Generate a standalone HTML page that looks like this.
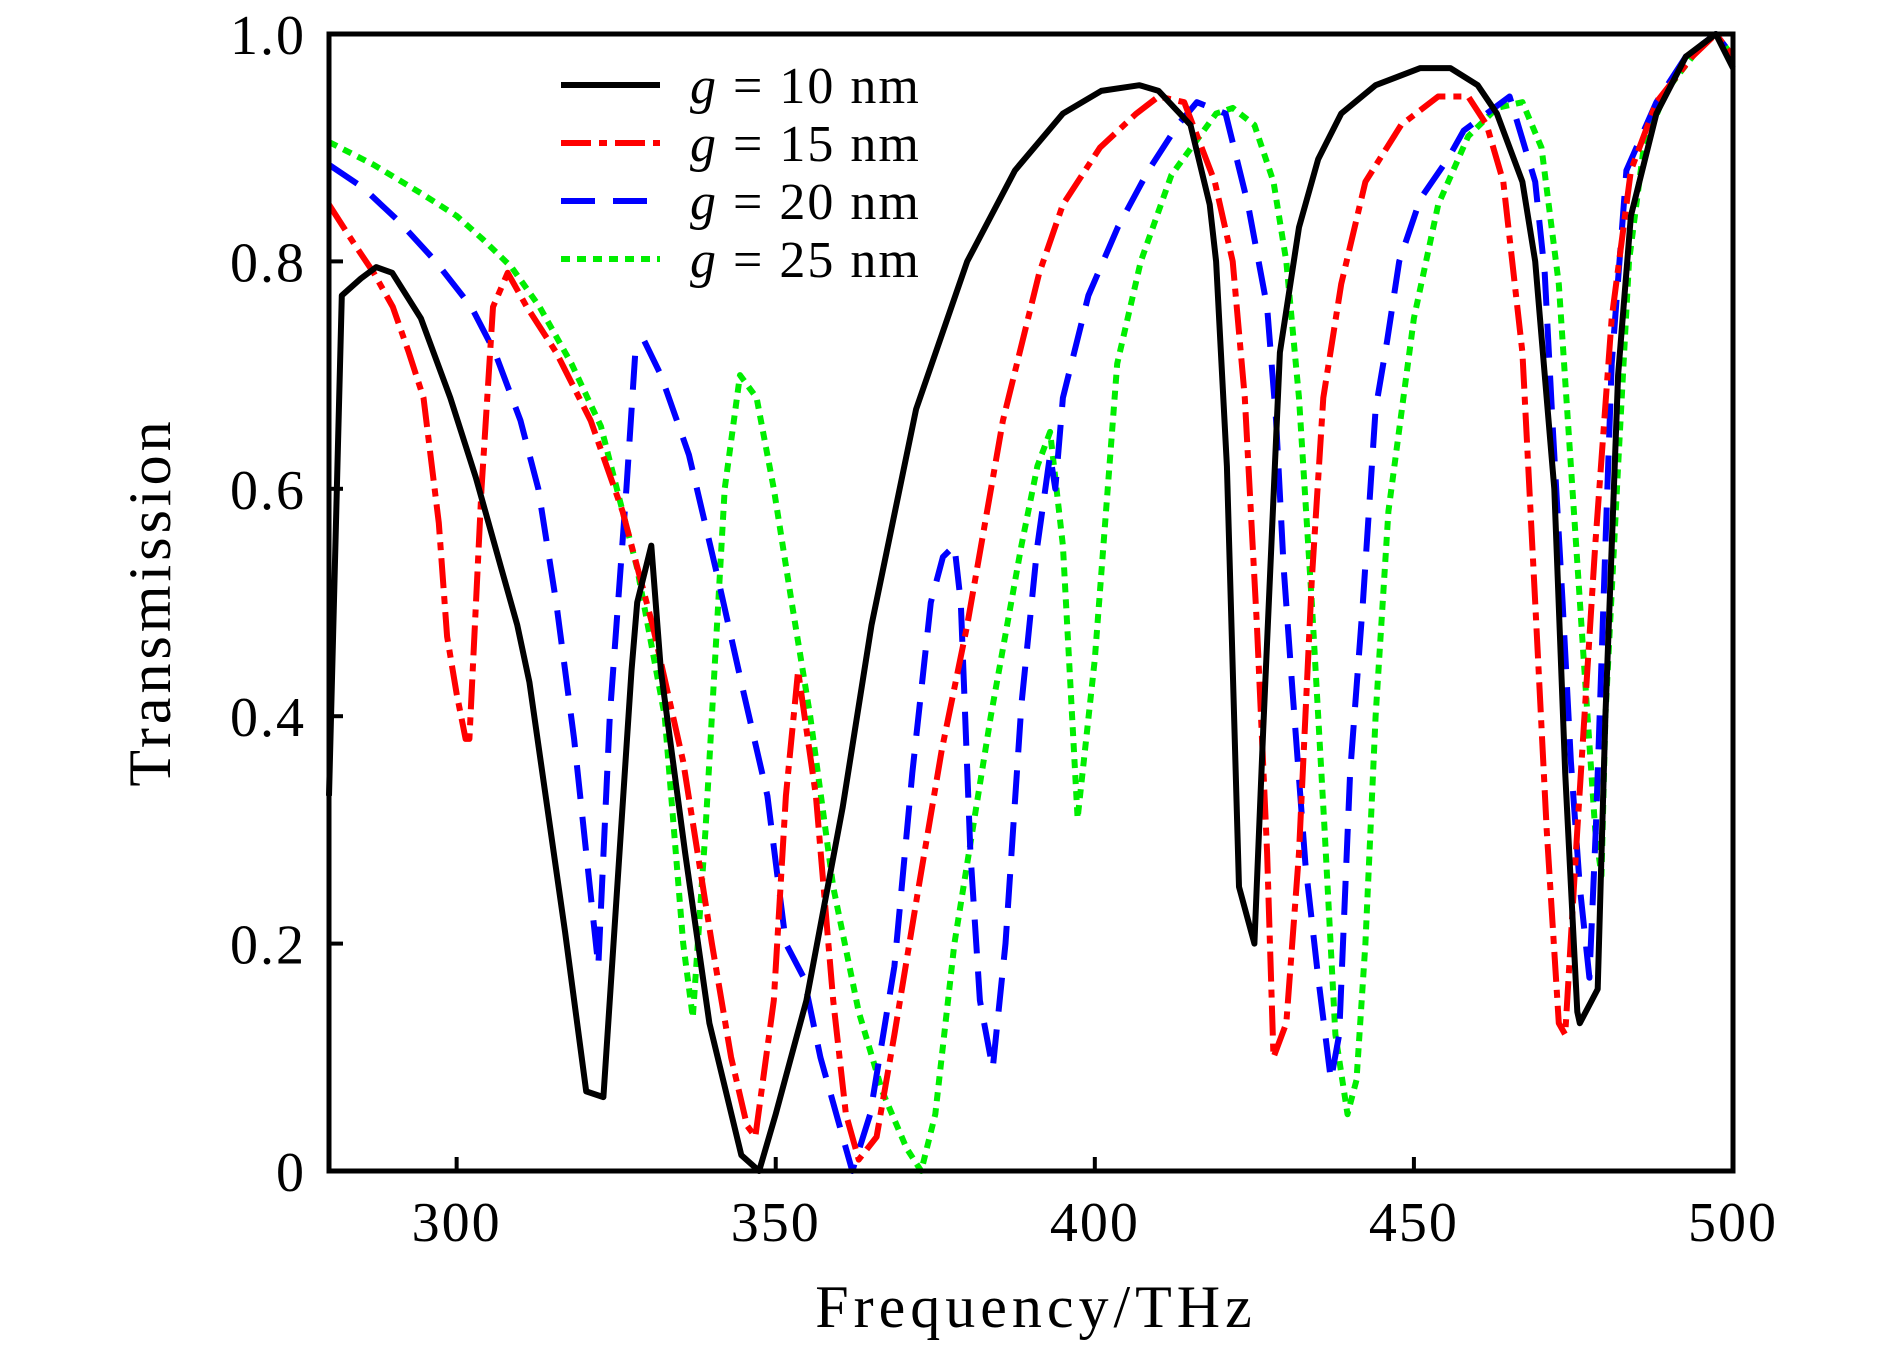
<!DOCTYPE html>
<html><head><meta charset="utf-8">
<style>
html,body{margin:0;padding:0;background:#fff;}
svg{display:block;}
text{font-family:"Liberation Serif",serif;fill:#000;}
</style></head>
<body>
<svg id="chart" width="1890" height="1347" viewBox="0 0 1890 1347" xmlns="http://www.w3.org/2000/svg">
  <g id="series"></g>
  <rect x="329" y="34" width="1404" height="1137" fill="none" stroke="#000" stroke-width="5"/>
  <g id="ticks"></g>
  <text x="0" y="0" font-size="60" text-anchor="middle" transform="translate(170,602) rotate(-90)" letter-spacing="4">Transmission</text>
  <text x="1036" y="1327" font-size="60" text-anchor="middle" letter-spacing="5">Frequency/THz</text>
  <g>
    <line x1="561" y1="85" x2="660" y2="85" stroke="#000" stroke-width="6"/>
    <text x="690" y="103" font-size="52" letter-spacing="2"><tspan font-style="italic">g</tspan> = 10 nm</text>
    <line x1="561" y1="143" x2="660" y2="143" stroke="#ff0000" stroke-width="6" stroke-dasharray="30 8 8 8"/>
    <text x="690" y="161" font-size="52" letter-spacing="2"><tspan font-style="italic">g</tspan> = 15 nm</text>
    <line x1="561" y1="201" x2="660" y2="201" stroke="#0000ff" stroke-width="6" stroke-dasharray="34 18"/>
    <text x="690" y="219" font-size="52" letter-spacing="2"><tspan font-style="italic">g</tspan> = 20 nm</text>
    <line x1="561" y1="259" x2="660" y2="259" stroke="#00ee00" stroke-width="6" stroke-dasharray="9 7"/>
    <text x="690" y="277" font-size="52" letter-spacing="2"><tspan font-style="italic">g</tspan> = 25 nm</text>
  </g>
</svg>
<script>
const xTicks = [300, 350, 400, 450, 500];
const yTicks = [0, 0.2, 0.4, 0.6, 0.8, 1.0];
const yTickLabels = ["0", "0.2", "0.4", "0.6", "0.8", "1.0"];

const f10 = [280,282,285,287.4,289.9,294.4,299,303,307,309.5,311.4,317,320.3,323,327.4,328.3,330.5,332,335.8,339.6,344.6,347.4,350,354.8,360.5,365,372,380,387.5,395,401,407,410,415,418,419,420.7,422.6,425,426.4,429,432,435,438.6,444,451,455.7,460,463,467,469,472,473.7,475.6,476,478.8,480,482,484,488,492.6,497.3,500];
const t10 = [0.33,0.77,0.785,0.795,0.79,0.75,0.68,0.61,0.53,0.48,0.43,0.21,0.07,0.065,0.44,0.5,0.55,0.44,0.28,0.13,0.014,0.0,0.05,0.15,0.32,0.48,0.67,0.8,0.88,0.93,0.95,0.955,0.95,0.92,0.85,0.8,0.62,0.25,0.2,0.39,0.72,0.83,0.89,0.93,0.955,0.97,0.97,0.955,0.93,0.87,0.8,0.6,0.35,0.14,0.13,0.16,0.4,0.7,0.84,0.93,0.98,1.0,0.97];

const f15 = [280,284,287,290,292.5,294.8,297.2,298.5,300,301.4,302,303.9,305.7,308,311,315.6,321,326,330.7,335.5,340,343,345.5,346.8,349.7,351.6,353.5,356.3,359,361,363,365.8,368.6,372.4,376,380,385.6,391.3,395,400.8,406.5,410,414,418.8,421.6,423.5,425.4,427,428,430,432,434,435.8,438.6,442.4,448,453.8,458.5,461.4,464,467,469,470.8,472.7,473.7,475.6,478.4,481,484,488,493.6,497.3,500];
const t15 = [0.85,0.815,0.79,0.76,0.72,0.68,0.57,0.47,0.42,0.38,0.38,0.6,0.76,0.79,0.76,0.72,0.66,0.58,0.48,0.36,0.2,0.1,0.04,0.03,0.15,0.33,0.44,0.33,0.15,0.05,0.01,0.03,0.12,0.25,0.37,0.48,0.66,0.79,0.85,0.9,0.93,0.945,0.94,0.87,0.8,0.68,0.48,0.28,0.1,0.13,0.28,0.52,0.68,0.78,0.87,0.92,0.945,0.945,0.92,0.87,0.72,0.5,0.3,0.13,0.12,0.3,0.55,0.75,0.88,0.94,0.98,1.0,0.98];

const f20 = [280,285.3,291,296.7,302.3,306,310,312.8,315.6,318.4,320.3,322.2,324,326.6,328,329.4,332,336.4,341,345,348.7,351.6,354.4,357,360,362,364.8,368.6,371.4,374.3,376.2,378,379,380.5,382,384,386,388.5,391,393,393.8,395,399,403.6,408.4,413,416,420.5,424,427,428.4,429.6,431,433,435,437,438.3,440,442,444,445.8,447.7,451,455.3,457.8,463.8,465,469,470.5,471.8,473.3,474.6,476,477.5,478.5,480,481,483.3,488,492.6,497.3,500];
const t20 = [0.885,0.865,0.835,0.8,0.76,0.72,0.66,0.6,0.5,0.38,0.28,0.18,0.4,0.6,0.72,0.73,0.7,0.63,0.52,0.42,0.33,0.2,0.17,0.1,0.04,0.0,0.05,0.18,0.35,0.5,0.54,0.55,0.5,0.28,0.15,0.09,0.2,0.41,0.55,0.63,0.6,0.68,0.77,0.83,0.88,0.92,0.94,0.93,0.85,0.76,0.66,0.53,0.42,0.27,0.17,0.08,0.12,0.35,0.5,0.67,0.73,0.8,0.855,0.89,0.915,0.94,0.945,0.87,0.79,0.65,0.5,0.36,0.25,0.17,0.3,0.55,0.71,0.88,0.94,0.98,1.0,0.98];

const f25 = [280,287,294.4,300,304,308.6,313,318,322.6,328.3,332.6,335.5,337,339,340.8,342,344.4,347,349.7,352.5,355.4,359,363,366.7,370.5,372.8,375,378,383.7,388.5,391,393,395,397.3,400,403.5,407.2,412,419,421.6,425,428,430,432,434,436,437.7,439.6,441,442.4,444,446,450,453.8,458.5,463,467,470,472.7,474.6,476.6,478.4,479.4,480,482,483.7,486,489.5,495,497.3,500];
const t25 = [0.905,0.885,0.86,0.84,0.82,0.795,0.76,0.71,0.655,0.53,0.4,0.2,0.135,0.3,0.48,0.6,0.7,0.68,0.6,0.5,0.4,0.25,0.14,0.07,0.02,0.0,0.05,0.2,0.4,0.55,0.62,0.65,0.55,0.31,0.45,0.71,0.8,0.876,0.93,0.935,0.92,0.87,0.8,0.68,0.5,0.3,0.12,0.05,0.08,0.2,0.4,0.58,0.75,0.85,0.91,0.935,0.94,0.9,0.78,0.62,0.45,0.3,0.26,0.4,0.62,0.8,0.9,0.95,0.99,1.0,0.98];

const X0 = 329, X1 = 1733, Y0 = 1171, Y1 = 34;
function xs(f){ return X0 + (f - 280) / 220 * (X1 - X0); }
function ys(t){ return Y0 - t * (Y0 - Y1); }
const NS = "http://www.w3.org/2000/svg";

const seriesG = document.getElementById('series');
const defs = [
  [f25, t25, "#00ee00", "9 7", "series-g25"],
  [f20, t20, "#0000ff", "34 18", "series-g20"],
  [f15, t15, "#ff0000", "30 8 8 8", "series-g15"],
  [f10, t10, "#000000", "", "series-g10"]
];
defs.forEach(function(s){
  const p = document.createElementNS(NS, 'path');
  let d = "";
  for (let i = 0; i < s[0].length; i++) {
    d += (i ? "L" : "M") + xs(s[0][i]).toFixed(1) + "," + ys(s[1][i]).toFixed(1);
  }
  p.setAttribute('d', d);
  p.setAttribute('fill', 'none');
  p.setAttribute('stroke', s[2]);
  p.setAttribute('stroke-width', '6');
  p.setAttribute('stroke-linejoin', 'round');
  if (s[3]) p.setAttribute('stroke-dasharray', s[3]);
  
  
  seriesG.appendChild(p);
});

const tg = document.getElementById('ticks');
xTicks.forEach(function(v){
  const x = xs(v);
  if (v < 500) {
    const l = document.createElementNS(NS, 'line');
    l.setAttribute('x1', x); l.setAttribute('x2', x);
    l.setAttribute('y1', Y0); l.setAttribute('y2', Y0 - 14);
    l.setAttribute('stroke', '#000'); l.setAttribute('stroke-width', '4');
    
    
    tg.appendChild(l);
  }
  const t = document.createElementNS(NS, 'text');
  t.setAttribute('x', x); t.setAttribute('y', 1241);
  t.setAttribute('font-size', '56'); t.setAttribute('text-anchor', 'middle');
  t.setAttribute('letter-spacing', '2');
  t.textContent = String(v);
  
  
  tg.appendChild(t);
});
yTicks.forEach(function(v, i){
  const y = ys(v);
  if (v > 0 && v < 1) {
    const l = document.createElementNS(NS, 'line');
    l.setAttribute('x1', X0); l.setAttribute('x2', X0 + 14);
    l.setAttribute('y1', y); l.setAttribute('y2', y);
    l.setAttribute('stroke', '#000'); l.setAttribute('stroke-width', '4');
    
    
    tg.appendChild(l);
  }
  const t = document.createElementNS(NS, 'text');
  t.setAttribute('x', 306); t.setAttribute('y', y + 20);
  t.setAttribute('font-size', '56'); t.setAttribute('text-anchor', 'end');
  t.setAttribute('letter-spacing', '2');
  t.textContent = yTickLabels[i];
  
  
  tg.appendChild(t);
});
</script>
</body></html>
